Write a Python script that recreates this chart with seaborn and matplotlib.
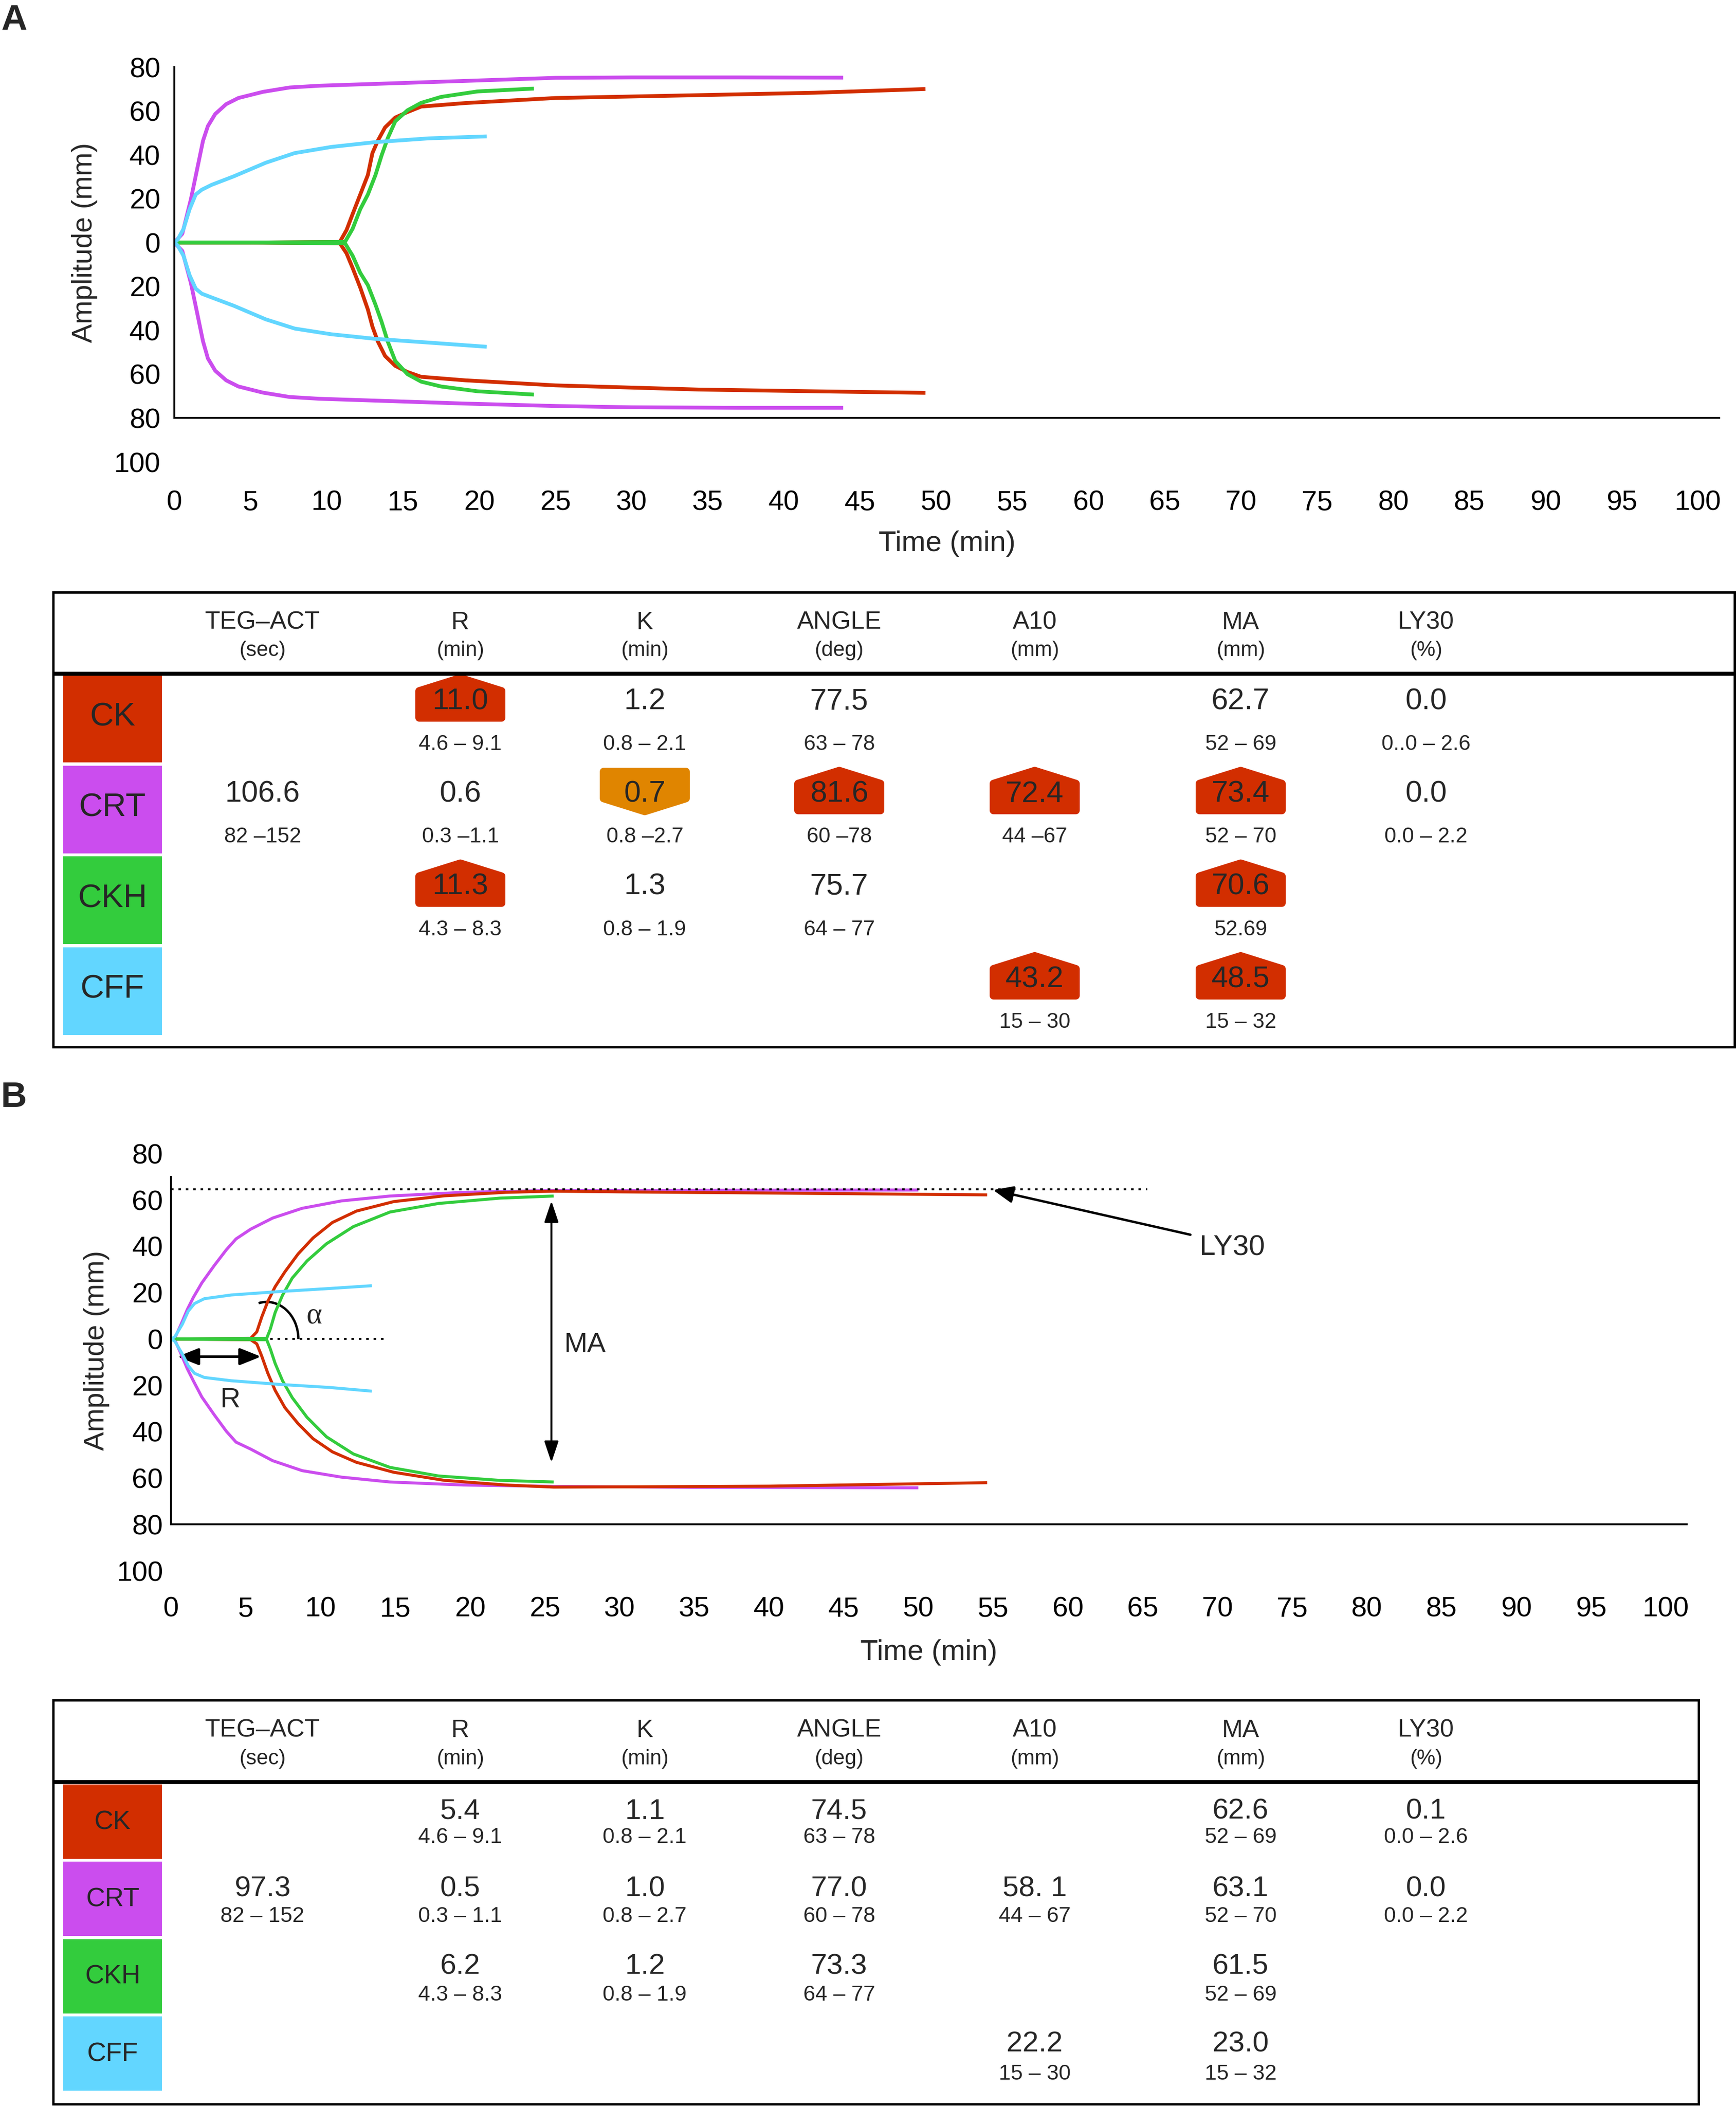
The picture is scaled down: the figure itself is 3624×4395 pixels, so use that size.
import numpy as np
import pandas as pd
import matplotlib
matplotlib.use('Agg')
import matplotlib.pyplot as plt
from matplotlib.patches import Rectangle, Polygon, Arc, FancyArrowPatch
import seaborn as sns

# ---------------- dados ----------------
PRODUTOS = ['CK', 'CRT', 'CKH', 'CFF']
ORDEM_DESENHO = ['CRT', 'CK', 'CKH', 'CFF']
CORES = {'CK': '#D22E00', 'CRT': '#CB4DEE', 'CKH': '#33CC3D', 'CFF': '#62D6FF'}
COR_ALTO = '#D22E00'
COR_BAIXO = '#E08500'

# Painel A - tracados TEG (tempo em min, amplitude em mm)
A_CK_T = [0, 5, 10.86, 11.3, 11.7, 12.2, 12.7, 13.0, 13.35, 13.83, 14.5, 15.3, 16.2, 19.1, 25, 34.4, 42, 49.3]
A_CK_SUP = [0, 0, 0.3, 5.7, 13, 21.9, 30.8, 40.8, 46.4, 52.5, 57, 59.5, 62, 63.6, 65.9, 67.2, 68.3, 70]
A_CK_INF = [0, 0, -0.3, -4.9, -11.6, -20.5, -30.5, -38.3, -45, -51.7, -56.2, -59, -61.2, -62.8, -65.1, -67, -67.8, -68.5]

A_CRT_T = [0, 0.52, 1.08, 1.48, 1.88, 2.2, 2.68, 3.4, 4.2, 5.81, 7.57, 9.5, 14.3, 19.1, 25, 30, 37, 43.9]
A_CRT_SUP = [0, 4, 19.6, 33, 46.4, 53.1, 58.6, 63.1, 65.9, 68.7, 70.7, 71.5, 72.6, 73.7, 75.1, 75.3, 75.3, 75.2]
A_CRT_INF = [0, -3.8, -18.3, -31.6, -45, -52.8, -58.4, -62.8, -65.6, -68.4, -70.4, -71.2, -72.3, -73.4, -74.5, -75.1, -75.3, -75.3]

A_CKH_T = [0, 5, 11.2, 11.7, 12.2, 12.7, 13.2, 13.6, 14.0, 14.5, 15.3, 16.2, 17.5, 19.9, 23.6]
A_CKH_SUP = [0, 0, 0.3, 6.3, 15.2, 21.9, 30.8, 39.7, 47.5, 55.3, 60.3, 63.7, 66.4, 68.9, 70.2]
A_CKH_INF = [0, 0, -0.3, -6, -13.8, -19.4, -28.3, -36.1, -45, -54, -60, -63.4, -65.6, -67.8, -69.3]

A_CFF_T = [0, 0.2, 0.6, 1.0, 1.4, 1.8, 2.44, 3.9, 6.0, 7.9, 10.3, 13.2, 16.7, 20.5]
A_CFF_SUP = [0, 1.2, 6.2, 15.2, 21.9, 24.1, 26.3, 30.2, 36.4, 40.8, 43.6, 45.8, 47.5, 48.4]
A_CFF_INF = [0, -1.2, -6, -14.9, -21, -23.3, -25, -28.8, -35, -39.2, -41.8, -43.9, -45.6, -47.5]

# Painel B - tracados TEG
B_CK_T = [0, 5.33, 5.74, 6.07, 6.48, 6.97, 7.62, 8.5, 9.5, 10.8, 12.4, 14.9, 18.3, 22.4, 25.6, 30, 40, 54.6]
B_CK_SUP = [0, 0.3, 3.1, 9.5, 16.3, 22.6, 29, 36.7, 43.6, 50.3, 55.2, 59.3, 61.8, 63.3, 63.8, 63.5, 63, 62.2]
B_CK_INF = [0, -0.3, -2.1, -7.4, -14.8, -22.2, -29.6, -36.5, -43, -48.7, -53.2, -57.5, -61, -63, -63.9, -63.8, -63.5, -62]

B_CRT_T = [0, 0.26, 0.67, 1.08, 1.49, 2.06, 2.88, 3.7, 4.35, 5.33, 6.8, 8.77, 11.4, 14.65, 19.56, 25.6, 35, 50]
B_CRT_SUP = [0, 0.5, 6.3, 12.6, 17.9, 24.2, 31.6, 38.5, 43.2, 47.4, 52.2, 56.4, 59.6, 61.7, 63.3, 64.1, 64.2, 64.3]
B_CRT_INF = [0, -0.5, -6.4, -12.7, -18, -25, -32.6, -39.8, -44.5, -47.5, -52.5, -56.8, -59.6, -61.7, -63, -63.6, -64, -64.2]

B_CKH_T = [0, 6.4, 6.64, 6.97, 7.46, 8.11, 9.1, 10.4, 12.2, 14.65, 17.9, 22, 25.6]
B_CKH_SUP = [0, 0.3, 4.2, 11.5, 18.9, 26.3, 33.7, 41.1, 48.5, 54.8, 58.5, 60.8, 61.7]
B_CKH_INF = [0, -0.3, -4.2, -10.6, -18, -25.3, -33.8, -42.2, -49.6, -55.4, -59.1, -61, -61.7]

B_CFF_T = [0, 0.26, 0.75, 1.16, 1.57, 2.23, 4.02, 7.3, 10.6, 13.43]
B_CFF_SUP = [0, 1.0, 6.3, 12.1, 15.3, 17.4, 19, 20.5, 21.8, 23]
B_CFF_INF = [0, -1.0, -6.4, -11.6, -14.8, -16.6, -18, -19.6, -20.9, -22.5]

# anotacoes do painel B
LY30_NIVEL = 64.5
LY30_FIM = 65.3
ALFA_LINHA = (6.64, 14.33)
ALFA_CENTRO = 6.4
R_SETA = (0.43, 6.02, -7.6)
MA_SETA = (25.45, 59.6, -53.3)
LY30_SETA = ((68.2, 45), (55.0, 64.3))

# tabelas
COLUNAS = ['TEG–ACT', 'R', 'K', 'ANGLE', 'A10', 'MA', 'LY30']
UNIDADES = ['(sec)', '(min)', '(min)', '(deg)', '(mm)', '(mm)', '(%)']

TAB_A_VALORES = {
    'CK':  ['', '11.0', '1.2', '77.5', '', '62.7', '0.0'],
    'CRT': ['106.6', '0.6', '0.7', '81.6', '72.4', '73.4', '0.0'],
    'CKH': ['', '11.3', '1.3', '75.7', '', '70.6', ''],
    'CFF': ['', '', '', '', '43.2', '48.5', ''],
}
TAB_A_FAIXAS = {
    'CK':  ['', '4.6 – 9.1', '0.8 – 2.1', '63 – 78', '', '52 – 69', '0..0 – 2.6'],
    'CRT': ['82 –152', '0.3 –1.1', '0.8 –2.7', '60 –78', '44 –67', '52 – 70', '0.0 – 2.2'],
    'CKH': ['', '4.3 – 8.3', '0.8 – 1.9', '64 – 77', '', '52.69', ''],
    'CFF': ['', '', '', '', '15 – 30', '15 – 32', ''],
}
# '+' acima da faixa, '-' abaixo da faixa
TAB_A_MARCAS = {
    'CK':  ['', '+', '', '', '', '', ''],
    'CRT': ['', '', '-', '+', '+', '+', ''],
    'CKH': ['', '+', '', '', '', '+', ''],
    'CFF': ['', '', '', '', '+', '+', ''],
}

TAB_B_VALORES = {
    'CK':  ['', '5.4', '1.1', '74.5', '', '62.6', '0.1'],
    'CRT': ['97.3', '0.5', '1.0', '77.0', '58. 1', '63.1', '0.0'],
    'CKH': ['', '6.2', '1.2', '73.3', '', '61.5', ''],
    'CFF': ['', '', '', '', '22.2', '23.0', ''],
}
TAB_B_FAIXAS = {
    'CK':  ['', '4.6 – 9.1', '0.8 – 2.1', '63 – 78', '', '52 – 69', '0.0 – 2.6'],
    'CRT': ['82 – 152', '0.3 – 1.1', '0.8 – 2.7', '60 – 78', '44 – 67', '52 – 70', '0.0 – 2.2'],
    'CKH': ['', '4.3 – 8.3', '0.8 – 1.9', '64 – 77', '', '52 – 69', ''],
    'CFF': ['', '', '', '', '15 – 30', '15 – 32', ''],
}

# ---------------- estilo ----------------
sns.set_theme(style='white')
plt.rcParams['font.family'] = ['Liberation Sans', 'DejaVu Sans']

W, H = 3624, 4395
DPI = 300
fig = plt.figure(figsize=(W / DPI, H / DPI), dpi=DPI)


def montar_df(curvas):
    linhas = []
    for nome, (t, sup, inf) in curvas.items():
        for ramo, amp in (('sup', sup), ('inf', inf)):
            for ti, ai in zip(t, amp):
                linhas.append({'tempo': ti, 'amp': ai, 'produto': nome, 'ramo': ramo})
    return pd.DataFrame(linhas)


def painel(pos, curvas, topo, lw, pad_y, ylab_xy, xlab_y):
    ax = fig.add_axes(pos)
    df = montar_df(curvas)
    sns.lineplot(data=df, x='tempo', y='amp', hue='produto', units='ramo',
                 estimator=None, sort=False, hue_order=ORDEM_DESENHO,
                 palette=CORES, lw=lw, legend=False, ax=ax,
                 solid_capstyle='butt', solid_joinstyle='round')
    ax.set_xlim(0, 101.4)
    ax.set_ylim(-100, 80)
    ax.set_xticks(range(0, 101, 5))
    yt = list(range(-100, 81, 20))
    ax.set_yticks(yt)
    ax.set_yticklabels([str(abs(v)) for v in yt])
    ax.spines[['top', 'right']].set_visible(False)
    ax.spines['bottom'].set_position(('data', -80))
    ax.spines['left'].set_bounds(-80, topo)
    for s in ('left', 'bottom'):
        ax.spines[s].set_linewidth(0.95)
        ax.spines[s].set_color('black')
    ax.tick_params(length=0, labelsize=14, colors='black')
    ax.tick_params(axis='x', pad=36)
    ax.tick_params(axis='y', pad=pad_y)
    ax.set_ylabel('Amplitude (mm)', fontsize=14.2, va='center')
    ax.yaxis.set_label_coords(*ylab_xy)
    ax.set_xlabel('Time (min)', fontsize=14.5, va='center')
    ax.xaxis.set_label_coords(0.5, xlab_y)
    ax.patch.set_alpha(0)
    return ax


curvas_a = {
    'CK': (A_CK_T, A_CK_SUP, A_CK_INF),
    'CRT': (A_CRT_T, A_CRT_SUP, A_CRT_INF),
    'CKH': (A_CKH_T, A_CKH_SUP, A_CKH_INF),
    'CFF': (A_CFF_T, A_CFF_SUP, A_CFF_INF),
}
curvas_b = {
    'CK': (B_CK_T, B_CK_SUP, B_CK_INF),
    'CRT': (B_CRT_T, B_CRT_SUP, B_CRT_INF),
    'CKH': (B_CKH_T, B_CKH_SUP, B_CKH_INF),
    'CFF': (B_CFF_T, B_CFF_SUP, B_CFF_INF),
}

axA = painel([364 / W, 1 - 964 / H, 3225 / W, 824 / H], curvas_a, 80, 1.9, 7,
             (-0.0581, 0.5556), -0.2075)
axB = painel([357 / W, 1 - 3278 / H, 3164 / W, 870.5 / H], curvas_b, 70, 1.5, 4,
             (-0.049, 0.528), -0.1953)

# anotacoes do painel B
pontilhado = dict(color='black', lw=1.0, ls=(0, (1.3, 2.4)))
axB.plot([0, LY30_FIM], [LY30_NIVEL, LY30_NIVEL], **pontilhado)
axB.plot(list(ALFA_LINHA), [0, 0], **pontilhado)
axB.add_patch(Arc((ALFA_CENTRO, 0), 4.24, 32, theta1=0, theta2=92, lw=1.2, color='black'))
axB.text(9.58, 10, 'α', fontsize=15, family=['Liberation Serif', 'DejaVu Serif'],
         ha='center', va='center')
seta = dict(mutation_scale=10, color='black', shrinkA=0, shrinkB=0)
axB.add_patch(FancyArrowPatch((R_SETA[0], R_SETA[2]), (R_SETA[1], R_SETA[2]),
                              arrowstyle='<|-|>,head_length=0.9,head_width=0.36',
                              lw=1.3, **seta))
axB.text(3.94, -26.4, 'R', fontsize=14, ha='center', va='center')
axB.add_patch(FancyArrowPatch((MA_SETA[0], MA_SETA[1]), (MA_SETA[0], MA_SETA[2]),
                              arrowstyle='<|-|>,head_length=0.9,head_width=0.3',
                              lw=1.0, **seta))
axB.text(26.3, -2.7, 'MA', fontsize=14, ha='left', va='center')
axB.add_patch(FancyArrowPatch(*LY30_SETA,
                              arrowstyle='-|>,head_length=0.85,head_width=0.36',
                              lw=1.2, **seta))
axB.text(68.8, 39.4, 'LY30', fontsize=14.5, ha='left', va='center')

fig.text(2 / W, 1 - 42 / H, 'A', fontsize=18, weight='bold', ha='left', va='center')
fig.text(2 / W, 1 - 2291 / H, 'B', fontsize=18, weight='bold', ha='left', va='center')

# ---------------- tabelas ----------------
tab = fig.add_axes([0, 0, 1, 1])
tab.set_xlim(0, W)
tab.set_ylim(H, 0)
tab.axis('off')

COL_X = [548, 961, 1346, 1752, 2160, 2590, 2977]
BLOCO_X = (131.5, 338)
PX_PT = DPI / 72


def texto(x, y, s, fs, **kw):
    # centra visualmente os algarismos em y
    tab.text(x, y + 0.358 * fs * PX_PT, s, fontsize=fs, ha='center', va='baseline', **kw)


def selo(cx, cy, tipo):
    hw, r = 86, 8
    if tipo == '+':
        pts = [(cx, cy - 43), (cx + hw, cy - 16), (cx + hw, cy + 40),
               (cx - hw, cy + 40), (cx - hw, cy - 16)]
        cor = COR_ALTO
    else:
        pts = [(cx - hw, cy - 41), (cx + hw, cy - 41), (cx + hw, cy + 15),
               (cx, cy + 42), (cx - hw, cy + 15)]
        cor = COR_BAIXO
    tab.add_patch(Polygon(pts, closed=True, fc=cor, ec=cor, lw=2 * r / PX_PT,
                          joinstyle='round'))


def tabela(geo, valores, faixas, marcas, fs_rot, fs_val, fs_faixa):
    x0, x1, y0, ysep, y1 = geo['caixa']
    tab.add_patch(Rectangle((x0, y0), x1 - x0, y1 - y0, fill=False, lw=1.2, ec='black'))
    tab.plot([x0, x1], [ysep, ysep], color='black', lw=2.0, solid_capstyle='butt')
    for cx, nome, unid in zip(COL_X, COLUNAS, UNIDADES):
        texto(cx, geo['y_nome'], nome, 12.5)
        texto(cx, geo['y_unid'], unid, 10.5)
    for i, prod in enumerate(PRODUTOS):
        topo = geo['linha0'] + i * geo['passo']
        tab.add_patch(Rectangle((BLOCO_X[0], topo), BLOCO_X[1] - BLOCO_X[0], geo['altura'],
                                fc=CORES[prod], ec='none'))
        texto(sum(BLOCO_X) / 2, topo + geo['altura'] / 2 - geo['sobe_rot'], prod, fs_rot)
        yv = geo['val0'] + i * geo['passo_val']
        yf = geo['faixa0'] + i * geo['passo_faixa']
        for j, cx in enumerate(COL_X):
            v = valores[prod][j]
            f = faixas[prod][j]
            if marcas is not None and marcas[prod][j]:
                selo(cx, yv, marcas[prod][j])
            if v:
                texto(cx, yv, v, fs_val)
            if f:
                texto(cx, yf, f, fs_faixa)


geo_a = dict(caixa=(111, 3621, 1236, 1406, 2185), y_nome=1294, y_unid=1353,
             linha0=1408, passo=189.5, altura=183, sobe_rot=10,
             val0=1458, passo_val=193.3, faixa0=1549, passo_faixa=193.3)
geo_b = dict(caixa=(111, 3546, 3548, 3719, 4391), y_nome=3606, y_unid=3666,
             linha0=3724, passo=161.3, altura=155, sobe_rot=4,
             val0=3774, passo_val=161.8, faixa0=3830, passo_faixa=164.6)

tabela(geo_a, TAB_A_VALORES, TAB_A_FAIXAS, TAB_A_MARCAS, 16.5, 15, 10.7)
tabela(geo_b, TAB_B_VALORES, TAB_B_FAIXAS, None, 13.2, 14.5, 10.8)

fig.savefig('out.png', dpi=DPI)
